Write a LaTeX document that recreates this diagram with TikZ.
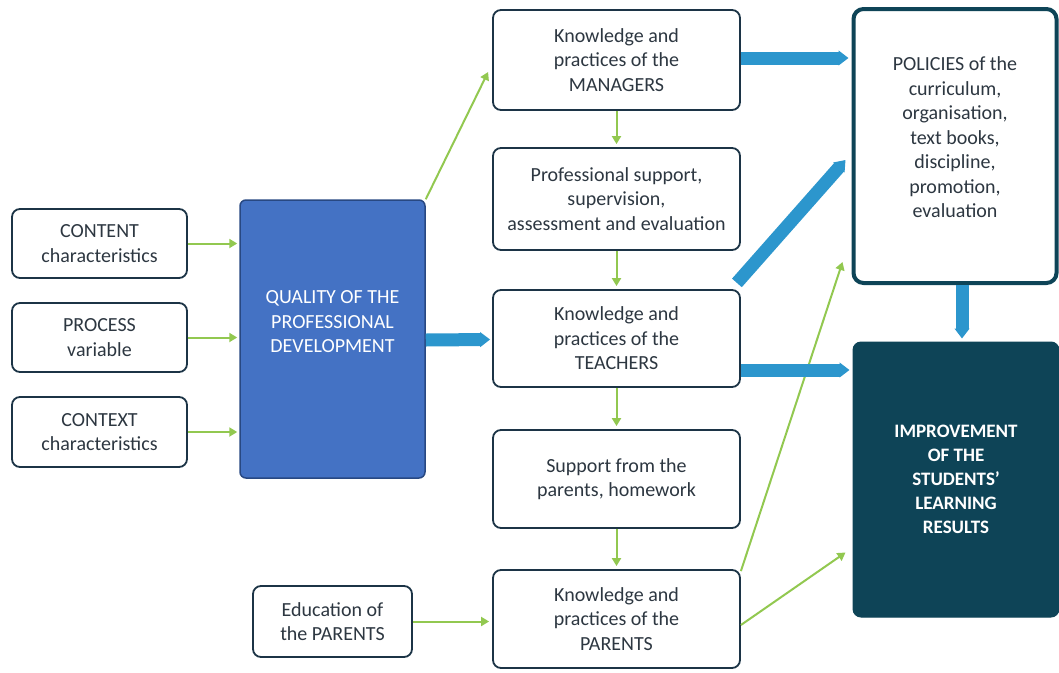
\documentclass[tikz,border=0pt]{standalone}
\usepackage{fontspec}
\setmainfont{Carlito}
\usetikzlibrary{arrows.meta,calc}
\definecolor{boxline}{RGB}{28,52,70}
\definecolor{txt}{RGB}{45,55,65}
\definecolor{qfill}{RGB}{68,114,196}
\definecolor{qline}{RGB}{40,72,130}
\definecolor{teal}{RGB}{14,68,87}
\definecolor{barrow}{RGB}{44,150,205}
\definecolor{garrow}{RGB}{146,200,80}
\begin{document}
\begin{tikzpicture}[x=1pt,y=-1pt,
  every node/.style={font=\fontsize{20}{24.5}\selectfont, align=center},
  box/.style={draw=boxline, line width=1.8pt, rounded corners=8pt, fill=white, text=txt, inner sep=0pt},
  qbox/.style={draw=qline, line width=1.5pt, rounded corners=6pt, fill=qfill, inner sep=0pt},
  pbox/.style={draw=teal, line width=4pt, rounded corners=10pt, fill=white, text=txt, inner sep=0pt},
  ibox/.style={draw=teal, fill=teal, line width=1pt, rounded corners=8pt, text=white, inner sep=0pt, font=\fontsize{19}{24}\selectfont\bfseries},
  ga/.style={draw=garrow, line width=2pt, -{Triangle[length=8pt,width=9pt]}},
  ba/.style={draw=barrow, line width=13pt, -{Triangle[length=10pt,width=14.5pt]}}
]
\useasboundingbox (0,0) rectangle (1059,672);
% left boxes
\node[box, minimum width=175pt, minimum height=69pt] (content) at (99.5,243.5) {CONTENT\\characteristics};
\node[box, minimum width=175pt, minimum height=69pt] (process) at (99.5,337.5) {PROCESS\\variable};
\node[box, minimum width=175pt, minimum height=70pt] (context) at (99.5,432) {CONTEXT\\characteristics};
% quality
\node[qbox, minimum width=185pt, minimum height=278pt] (quality) at (332.5,339) {};
\node[text=white] (qtext) at (332.5,322) {QUALITY OF THE\\PROFESSIONAL\\DEVELOPMENT};
% middle column
\node[box, minimum width=247pt, minimum height=100pt] (managers) at (616.5,60) {Knowledge and\\practices of the\\MANAGERS};
\node[box, minimum width=247pt, minimum height=102pt] (support) at (616.5,199) {Professional support,\\supervision,\\assessment and evaluation};
\node[box, minimum width=247pt, minimum height=97pt] (teachers) at (616.5,338.5) {Knowledge and\\practices of the\\TEACHERS};
\node[box, minimum width=247pt, minimum height=98pt] (psupport) at (616.5,479) {Support from the\\parents, homework};
\node[box, minimum width=247pt, minimum height=98pt] (parents) at (616.5,619) {Knowledge and\\practices of the\\PARENTS};
\node[box, minimum width=159pt, minimum height=71pt] (edu) at (332.5,621.5) {Education of\\the PARENTS};
% right column
\node[pbox, minimum width=203pt, minimum height=274pt] (policies) at (955,146) {};
\node[text=txt] (ptext) at (955,137.5) {POLICIES of the\\curriculum,\\organisation,\\text books,\\discipline,\\promotion,\\evaluation};
\node[ibox, minimum width=206pt, minimum height=275pt] (improve) at (956,479.5) {IMPROVEMENT\\OF THE\\STUDENTS'\\LEARNING\\RESULTS};
% green arrows
\draw[ga] (content.east) -- ($(quality.west |- content.east)+(-2,0)$);
\draw[ga] (process.east) -- ($(quality.west |- process.east)+(-2,0)$);
\draw[ga] (context.east) -- ($(quality.west |- context.east)+(-2,0)$);
\draw[ga] (quality.north east) -- ($(managers.west)+(-4,12)$);
\draw[ga] (managers.south) -- ($(support.north)+(0,-3)$);
\draw[ga] (support.south) -- ($(teachers.north)+(0,-3)$);
\draw[ga] (teachers.south) -- ($(psupport.north)+(0,-3)$);
\draw[ga] (psupport.south) -- ($(parents.north)+(0,-3)$);
\draw[ga] (edu.east) -- ($(parents.west |- edu.east)+(-3,0)$);
\draw[ga] ($(parents.north east)+(0,2)$) -- ($(policies.west)+(-9,116)$);
\draw[ga] ($(parents.east)+(0,6)$) -- ($(improve.west)+(-7,73)$);
% blue arrows
\draw[ba] ($(quality.east)+(0,1)$) -- ($(teachers.west)+(-2,1)$);
\draw[ba] ($(managers.east)+(0,-2)$) -- ($(policies.west |- managers.east)+(-3,-2)$);
\draw[ba] ($(support.south east)+(-4,32)$) -- ($(policies.west)+(-6,14)$);
\draw[ba] ($(teachers.east)+(0,31.5)$) -- ($(improve.west |- teachers.east)+(-3,31.5)$);
\draw[ba] ($(policies.south)+(7,0)$) -- ($(improve.north)+(6,-3)$);
\end{tikzpicture}
\end{document}
